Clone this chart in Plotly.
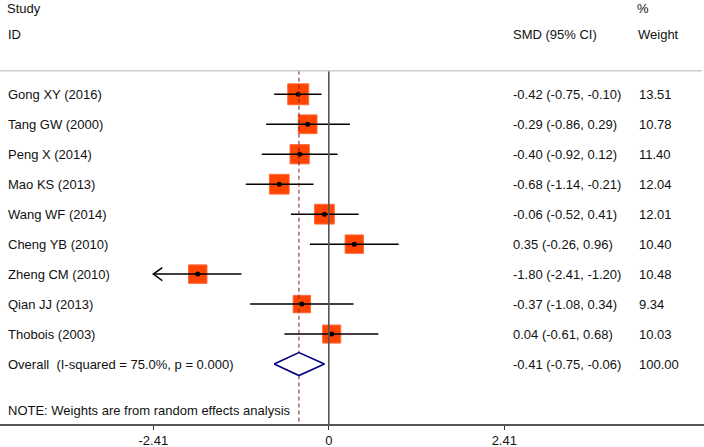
import plotly.graph_objects as go
import numpy as np

# ---------------- data ----------------
studies = ["Gong XY (2016)", "Tang GW (2000)", "Peng X (2014)", "Mao KS (2013)",
           "Wang WF (2014)", "Cheng YB (2010)", "Zheng CM (2010)", "Qian JJ (2013)",
           "Thobois (2003)"]
smd = [-0.42, -0.29, -0.40, -0.68, -0.06, 0.35, -1.80, -0.37, 0.04]
ci_low = [-0.75, -0.86, -0.92, -1.14, -0.52, -0.26, -2.41, -1.08, -0.61]
ci_high = [-0.10, 0.29, 0.12, -0.21, 0.41, 0.96, -1.20, 0.34, 0.68]
weights = [13.51, 10.78, 11.40, 12.04, 12.01, 10.40, 10.48, 9.34, 10.03]

overall_label = "Overall\u00a0 (I-squared = 75.0%, p = 0.000)"
overall_smd = -0.41
overall_low = -0.75
overall_high = -0.06
overall_weight = 100.00

tick_vals = [-2.41, 0, 2.41]
tick_text = ["-2.41", "0", "2.41"]
note_text = "NOTE: Weights are from random effects analysis"

# ---------------- geometry helpers ----------------
W, H = 704, 447
px_per_unit = 72.82          # horizontal scale
zero_px = 328.8
x_range = [-zero_px / px_per_unit, (W - zero_px) / px_per_unit]
row_px = 29.97               # vertical spacing of rows
first_row_px = 94.3
plot_h = 424
y_range = [1 + (plot_h - first_row_px) / row_px, 1 - first_row_px / row_px]
axis_min = tick_vals[0]

rows = list(range(1, len(studies) + 1))
overall_row = len(studies) + 1
header_line_row = 1 + (70.7 - first_row_px) / row_px
note_row = 1 + (410 - first_row_px) / row_px

FONT = "Liberation Sans, Arial, sans-serif"
TXT = "#111111"

fig = go.Figure()

# reference lines
diamond_h = 11.5 / row_px
fig.add_shape(type="line", xref="x", yref="y", x0=0, x1=0,
              y0=header_line_row, y1=y_range[0],
              line=dict(color="#555555", width=1.6))
fig.add_shape(type="line", xref="x", yref="y", x0=overall_smd, x1=overall_smd,
              y0=header_line_row, y1=overall_row - diamond_h,
              line=dict(color="#7A1F1F", width=1, dash="4px,3px"))
fig.add_shape(type="line", xref="x", yref="y", x0=overall_smd, x1=overall_smd,
              y0=overall_row + diamond_h, y1=y_range[0],
              line=dict(color="#7A1F1F", width=1, dash="4px,3px"))
# header rule
fig.add_shape(type="line", xref="paper", yref="y", x0=0, x1=0.997,
              y0=header_line_row, y1=header_line_row,
              line=dict(color="#CCCCCC", width=1.5))

# squares
k = 5.7
sizes = [k * np.sqrt(w) for w in weights]
fig.add_trace(go.Scatter(
    x=smd, y=rows, mode="markers",
    marker=dict(symbol="square", size=sizes, color="#FF4500", opacity=1,
                line=dict(color="#FF6A3D", width=1)),
    hoverinfo="skip", showlegend=False))

# CI lines
cx, cy = [], []
for lo, hi, r in zip(ci_low, ci_high, rows):
    cx += [max(lo, axis_min), hi, None]
    cy += [r, r, None]
fig.add_trace(go.Scatter(x=cx, y=cy, mode="lines",
                         line=dict(color="black", width=1.5),
                         hoverinfo="skip", showlegend=False))

# arrows where the CI reaches the axis limit
ax_, ay_ = [], []
dx = 9 / px_per_unit
dy = 6.5 / row_px
for lo, r in zip(ci_low, rows):
    if lo <= axis_min:
        ax_ += [axis_min + dx, axis_min, axis_min + dx, None]
        ay_ += [r - dy, r, r + dy, None]
fig.add_trace(go.Scatter(x=ax_, y=ay_, mode="lines",
                         line=dict(color="black", width=1.5),
                         hoverinfo="skip", showlegend=False))

# point estimates
fig.add_trace(go.Scatter(x=smd, y=rows, mode="markers",
                         marker=dict(symbol="circle", size=5, color="black", opacity=1),
                         hoverinfo="skip", showlegend=False))

# diamond
fig.add_trace(go.Scatter(
    x=[overall_low, overall_smd, overall_high, overall_smd, overall_low],
    y=[overall_row, overall_row - diamond_h, overall_row, overall_row + diamond_h, overall_row],
    mode="lines", line=dict(color="#000080", width=1.6),
    hoverinfo="skip", showlegend=False))

# ---------------- text ----------------
def txt(x_px, row, s):
    fig.add_annotation(x=x_px / W, xref="paper", y=row, yref="y", text=s,
                       showarrow=False, xanchor="left", yanchor="middle",
                       font=dict(family=FONT, size=13, color=TXT))

def top_txt(x_px, s):
    fig.add_annotation(x=x_px / W, xref="paper", y=1, yref="paper", text=s,
                       showarrow=False, xanchor="left", yanchor="top", borderpad=0,
                       font=dict(family=FONT, size=13, color=TXT))

top_txt(6, "Study")
txt(6, -1.0, "ID")
txt(511, -1.0, "SMD (95% CI)")
top_txt(636, "%")
txt(636, -1.0, "Weight")

for s, e, lo, hi, w, r in zip(studies, smd, ci_low, ci_high, weights, rows):
    txt(6, r, s)
    txt(511, r, f"{e:.2f} ({lo:.2f}, {hi:.2f})")
    txt(637, r, f"{w:.2f}")

txt(6, overall_row, overall_label)
txt(511, overall_row, f"{overall_smd:.2f} ({overall_low:.2f}, {overall_high:.2f})")
txt(637, overall_row, f"{overall_weight:.2f}")
txt(6, note_row, note_text)

fig.update_layout(
    width=W, height=H,
    margin=dict(l=0, r=0, t=0, b=H - plot_h),
    paper_bgcolor="white", plot_bgcolor="white",
    xaxis=dict(range=x_range, showgrid=False, zeroline=False,
               showline=True, linecolor="#555555", linewidth=1.5,
               ticks="outside", ticklen=4, tickwidth=1, tickcolor="#333333",
               tickvals=tick_vals, ticktext=tick_text,
               tickfont=dict(family=FONT, size=13, color=TXT)),
    yaxis=dict(range=y_range, visible=False, showgrid=False, zeroline=False),
)

fig.write_html("out.html", config={"displayModeBar": False},
               post_script="document.body.style.margin='0';document.body.style.overflow='hidden';")
